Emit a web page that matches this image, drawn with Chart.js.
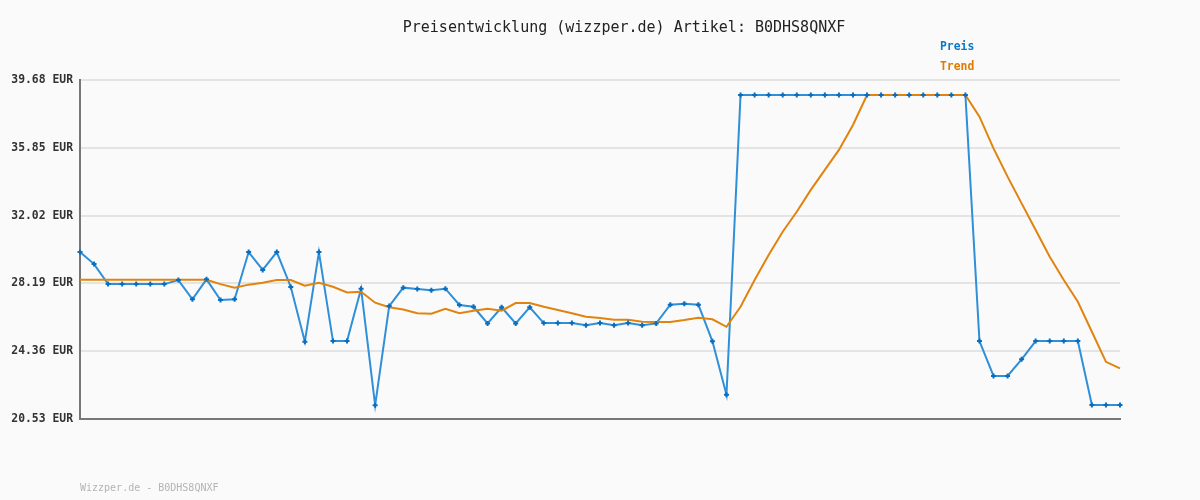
<!DOCTYPE html>
<html>
<head>
<meta charset="utf-8">
<script src="https://cdn.jsdelivr.net/npm/chart.js@4"></script>
<style>
  html, body { margin: 0; padding: 0; background: #fafafa; }
  #wrap { width: 1200px; height: 500px; }
</style>
</head>
<body>
<div id="wrap"><canvas id="priceChart" width="1200" height="500"></canvas></div>
<script>
const chartTitle = 'Preisentwicklung (wizzper.de) Artikel: B0DHS8QNXF';
const footerText = 'Wizzper.de - B0DHS8QNXF';
const seriesNames = ['Preis', 'Trend'];
const yTicks = [20.53, 24.36, 28.19, 32.02, 35.85, 39.68];

const preis = [
  29.96, 29.28, 28.15, 28.15, 28.15, 28.15, 28.15, 28.38, 27.29, 28.42,
  27.25, 27.29, 29.96, 28.95, 29.96, 27.99, 24.90, 29.96, 24.93, 24.93,
  27.89, 21.30, 26.91, 27.95, 27.87, 27.80, 27.89, 26.97, 26.87, 25.93,
  26.84, 25.93, 26.84, 25.95, 25.95, 25.95, 25.82, 25.95, 25.82, 25.95,
  25.82, 25.93, 26.99, 27.04, 26.99, 24.92, 21.90, 38.83, 38.83, 38.83,
  38.83, 38.83, 38.83, 38.83, 38.83, 38.83, 38.83, 38.83, 38.83, 38.83,
  38.83, 38.83, 38.83, 38.83, 24.93, 22.96, 22.96, 23.90, 24.93, 24.93,
  24.93, 24.93, 21.32, 21.32, 21.32
];

const trend = [
  28.40, 28.40, 28.40, 28.40, 28.40, 28.40, 28.40, 28.40, 28.40, 28.40,
  28.15, 27.95, 28.12, 28.23, 28.38, 28.38, 28.06, 28.23, 28.00, 27.68,
  27.72, 27.10, 26.84, 26.72, 26.50, 26.48, 26.76, 26.50, 26.65, 26.76,
  26.65, 27.08, 27.08, 26.87, 26.69, 26.50, 26.31, 26.23, 26.14, 26.14,
  26.03, 26.01, 26.01, 26.12, 26.25, 26.16, 25.74, 26.87, 28.38, 29.79,
  31.11, 32.24, 33.47, 34.60, 35.73, 37.14, 38.83, 38.83, 38.83, 38.83,
  38.83, 38.83, 38.83, 38.83, 37.61, 35.82, 34.22, 32.71, 31.21, 29.70,
  28.38, 27.15, 25.46, 23.76, 23.39
];

const labels = preis.map((v, i) => i + 1);

const monoFont = '"DejaVu Sans Mono", "Liberation Mono", monospace';
const blueLine = '#2f8fd8';
const blueDot = '#0a6ebf';
const orange = '#e0840f';

// title, legend and footer are painted by hand like the original image
const textPlugin = {
  id: 'textPlugin',
  beforeDraw(chart) {
    const c = chart.ctx;
    c.save();
    c.fillStyle = '#fafafa';
    c.fillRect(0, 0, chart.width, chart.height);
    c.restore();
  },
  afterDraw(chart) {
    const c = chart.ctx;
    c.save();
    c.textBaseline = 'middle';
    c.fillStyle = '#222';
    c.font = '15px ' + monoFont;
    c.textAlign = 'center';
    c.fillText(chartTitle, 624, 28);

    c.textAlign = 'left';
    c.font = 'bold 11.4px ' + monoFont;
    c.fillStyle = '#0a7ac8';
    c.fillText(seriesNames[0], 940, 47);
    c.fillStyle = '#e07b00';
    c.fillText(seriesNames[1], 940, 67);

    c.font = '10px ' + monoFont;
    c.fillStyle = '#b4b4b4';
    c.fillText(footerText, 80, 488);
    c.restore();
  }
};

const ctx = document.getElementById('priceChart').getContext('2d');
new Chart(ctx, {
  type: 'line',
  data: {
    labels: labels,
    datasets: [
      {
        label: seriesNames[0],
        data: preis,
        borderColor: blueLine,
        borderWidth: 2,
        pointRadius: 0,
        tension: 0,
        order: 3
      },
      {
        label: seriesNames[1],
        data: trend,
        borderColor: orange,
        borderWidth: 2,
        pointRadius: 0,
        tension: 0,
        order: 2
      },
      {
        label: seriesNames[0] + ' Punkte',
        data: preis,
        showLine: false,
        pointStyle: 'cross',
        pointRadius: 2.5,
        pointBorderWidth: 2,
        pointBorderColor: blueDot,
        pointBackgroundColor: blueDot,
        order: 1
      }
    ]
  },
  options: {
    responsive: false,
    animation: false,
    layout: { padding: { left: 0, right: 80, top: 80, bottom: 81 } },
    plugins: {
      legend: { display: false },
      title: { display: false },
      tooltip: { enabled: false }
    },
    scales: {
      x: {
        offset: false,
        grid: { display: false, drawTicks: false },
        border: { display: true, color: '#777', width: 2 },
        ticks: { display: false },
        afterFit(scale) { scale.height = 0; }
      },
      y: {
        min: yTicks[0],
        max: yTicks[yTicks.length - 1],
        afterBuildTicks(scale) { scale.ticks = yTicks.map(v => ({ value: v })); },
        afterFit(scale) { scale.width = 80; },
        grid: { color: '#e4e4e4', lineWidth: 2, drawTicks: false },
        border: { display: true, color: '#777', width: 2 },
        ticks: {
          padding: 7,
          color: '#333',
          font: { family: monoFont, size: 11.4, weight: 'bold' },
          callback: v => v.toFixed(2) + ' EUR'
        }
      }
    }
  },
  plugins: [textPlugin]
});
</script>
</body>
</html>
